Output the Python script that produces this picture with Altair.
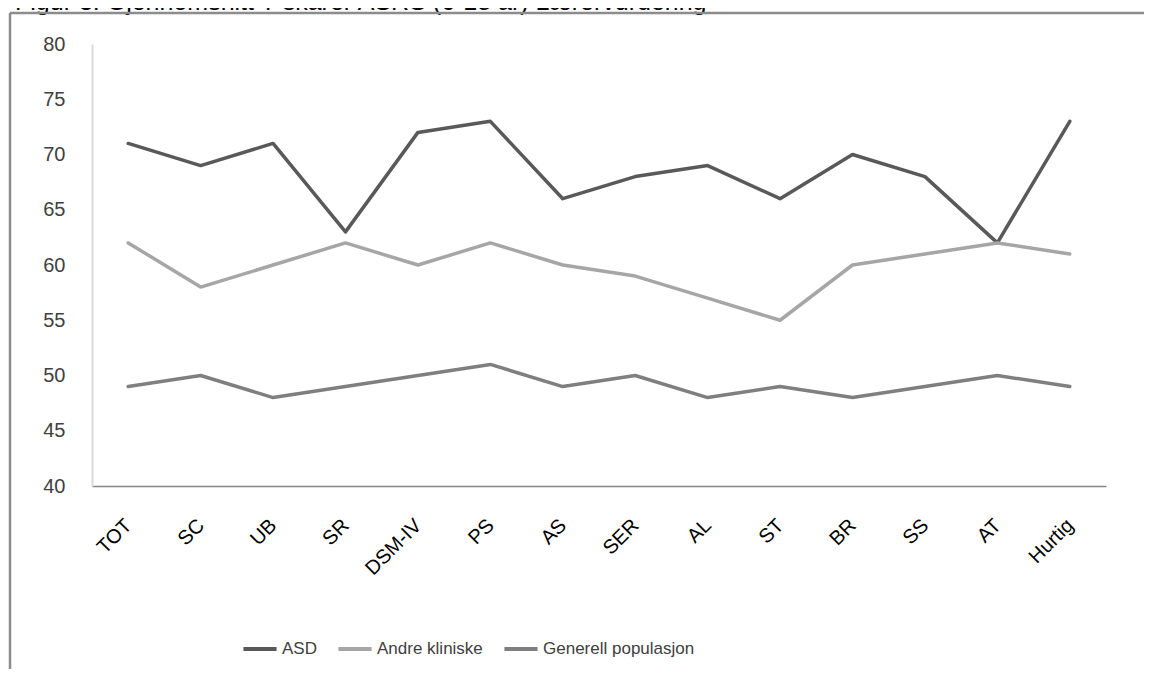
import altair as alt
import pandas as pd

# ---- data ----
categories = ["TOT", "SC", "UB", "SR", "DSM-IV", "PS", "AS", "SER", "AL", "ST", "BR", "SS", "AT", "Hurtig"]
asd = [71, 69, 71, 63, 72, 73, 66, 68, 69, 66, 70, 68, 62, 73]
andre_kliniske = [62, 58, 60, 62, 60, 62, 60, 59, 57, 55, 60, 61, 62, 61]
generell_populasjon = [49, 50, 48, 49, 50, 51, 49, 50, 48, 49, 48, 49, 50, 49]
series_names = ["ASD", "Andre kliniske", "Generell populasjon"]
series_colors = ["#595959", "#a6a6a6", "#7f7f7f"]
y_ticks = [40, 45, 50, 55, 60, 65, 70, 75, 80]
title_text = "Figur 3: Gjennomsnitt T-skårer ASRS (6-18 år) Lærervurdering"

rows = []
for name, vals in zip(series_names, [asd, andre_kliniske, generell_populasjon]):
    for cat, v in zip(categories, vals):
        rows.append({"Kategori": cat, "Serie": name, "Verdi": v})
df = pd.DataFrame(rows)

FONT = "Liberation Sans"

lines = alt.Chart(df).mark_line(strokeWidth=3.5, strokeCap="round", strokeJoin="round").encode(
    x=alt.X(
        "Kategori:N",
        sort=categories,
        scale=alt.Scale(type="point", padding=0.5),
        axis=alt.Axis(
            title=None, labelAngle=-45, labelAlign="right", labelBaseline="middle",
            labelPadding=36, ticks=False, domainColor="#868686", domainWidth=1.5,
            labelFontSize=20, labelColor="#000000", labelFont=FONT,
        ),
    ),
    y=alt.Y(
        "Verdi:Q",
        scale=alt.Scale(domain=[40, 80], nice=False, zero=False),
        axis=alt.Axis(
            title=None, values=y_ticks, grid=False, ticks=False,
            domainColor="#d9d9d9", domainWidth=2, labelFontSize=20,
            labelPadding=27, labelColor="#404040", labelFont=FONT,
        ),
    ),
    color=alt.Color(
        "Serie:N",
        scale=alt.Scale(domain=series_names, range=series_colors),
        legend=alt.Legend(
            title=None, orient="none", legendX=149, legendY=586,
            direction="horizontal", symbolType="stroke", symbolSize=1100,
            symbolStrokeWidth=4, labelFontSize=17, labelColor="#404040",
            labelFont=FONT, columnPadding=13, labelOffset=3,
        ),
    ),
)

frame_df = pd.DataFrame({"k": [0]})
title = alt.Chart(frame_df).mark_text(
    text=title_text, align="left", baseline="alphabetic", fontSize=25, font=FONT, color="#000000"
).encode(x=alt.value(-77), y=alt.value(-34.5))
top_border = alt.Chart(frame_df).mark_rule(color="#8c8c8c", strokeWidth=2.5).encode(
    x=alt.value(-82), x2=alt.value(1200), y=alt.value(-31)
)
left_border = alt.Chart(frame_df).mark_rule(color="#8c8c8c", strokeWidth=2.5).encode(
    x=alt.value(-82), y=alt.value(-31), y2=alt.value(800)
)

chart = alt.layer(title, top_border, left_border, lines).properties(
    width=1014, height=442,
    autosize=alt.AutoSizeParams(type="none"),
    padding={"left": 84, "top": 36, "right": 38, "bottom": 183},
    background="#ffffff",
).configure_view(strokeWidth=0)

chart.save("out.html", embed_options={"renderer": "svg", "actions": False})
